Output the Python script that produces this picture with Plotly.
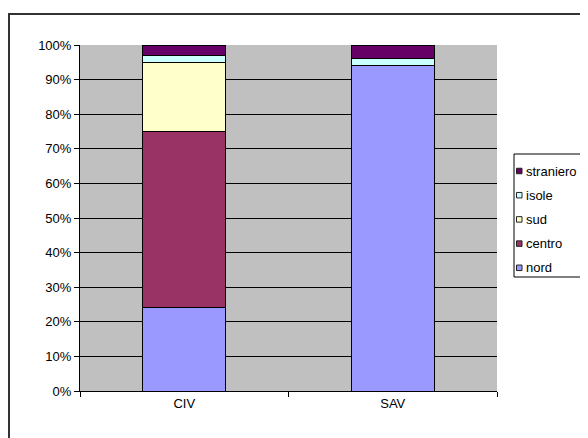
import plotly.graph_objects as go

# categories and percentage shares
categories = ["CIV", "SAV"]
nord = [24, 94]
centro = [51, 0]
sud = [20, 0]
isole = [2, 2]
straniero = [3, 4]

series = [
    ("nord", nord, "#9999FF"),
    ("centro", centro, "#993366"),
    ("sud", sud, "#FFFFCC"),
    ("isole", isole, "#CCFFFF"),
    ("straniero", straniero, "#660066"),
]

font_family = "Liberation Sans Narrow, Liberation Sans, Arial, sans-serif"

# the page body adds an 8px offset, so the figure is a bit smaller
OFF = 8
W, H = 580, 430
L, T = 80 - OFF, 45 - OFF
pw, ph = 417, 346
R, B = W - L - pw, H - T - ph

# page pixel -> paper coordinates
def px_x(v):
    return (v - OFF - L) / pw

def px_y(v):
    return (T + ph - (v - OFF)) / ph

fig = go.Figure()
for name, vals, col in series:
    fig.add_trace(go.Bar(
        x=categories, y=vals, name=name,
        marker=dict(color=col, line=dict(color="black", width=1)),
        hoverinfo="skip", showlegend=False,
    ))

fig.update_layout(
    width=W, height=H,
    barmode="stack", bargap=0.6,
    margin=dict(l=L, r=R, t=T, b=B, autoexpand=False),
    paper_bgcolor="white", plot_bgcolor="#C0C0C0",
    font=dict(family=font_family, size=13, color="black"),
)

fig.update_yaxes(
    range=[0, 100], dtick=10, ticksuffix="%",
    showgrid=True, gridcolor="black", gridwidth=1,
    showline=True, linecolor="black", linewidth=1,
    ticks="outside", ticklen=5, tickcolor="black",
    zeroline=False,
)
fig.update_xaxes(
    showline=True, linecolor="black", linewidth=1,
    ticks="outside", tickson="boundaries", ticklen=5, tickcolor="black",
    showgrid=False,
)

# outer chart border
fig.add_shape(type="rect", xref="paper", yref="paper",
              x0=px_x(9), x1=px_x(620), y0=px_y(470), y1=px_y(14),
              line=dict(color="#333333", width=2), layer="below")

# legend box (Excel style, top item = last series)
fig.add_shape(type="rect", xref="paper", yref="paper",
              x0=px_x(514), x1=px_x(583), y0=px_y(277), y1=px_y(154),
              line=dict(color="black", width=1), fillcolor="white")
for i, (name, vals, col) in enumerate(reversed(series)):
    cy = 171 + 24.2 * i
    fig.add_shape(type="rect", xref="paper", yref="paper",
                  x0=px_x(516.5), x1=px_x(522), y0=px_y(cy + 2.75), y1=px_y(cy - 2.75),
                  line=dict(color="#222222", width=1), fillcolor=col)
    fig.add_annotation(text=name, xref="paper", yref="paper",
                       x=px_x(524), y=px_y(cy), xanchor="left", yanchor="middle",
                       showarrow=False, font=dict(size=13))

fig.write_html("out.html")
